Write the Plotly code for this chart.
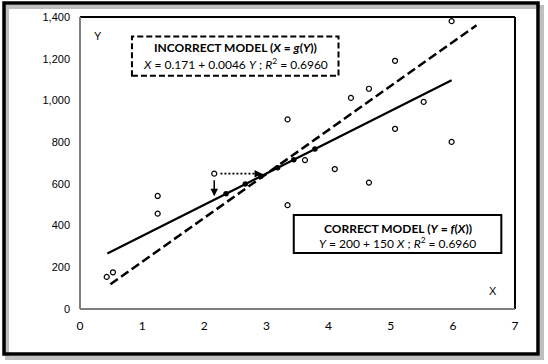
import plotly.graph_objects as go

# ---- data ----
obs_x = [0.43, 0.53, 1.25, 1.25, 2.16, 3.34, 3.34, 3.62, 4.10, 4.36, 4.65, 4.65, 5.07, 5.07, 5.53, 5.98, 5.98]
obs_y = [154, 176, 542, 457, 649, 909, 498, 714, 671, 1012, 1056, 606, 1190, 864, 993, 1380, 801]

# fitted (filled) points on the correct model line
fit_x = [2.35, 2.66, 2.91, 3.18, 3.44, 3.78]

# correct model Y = a + b X
a_coef = 200
b_coef = 150
solid_x = [0.44, 5.98]

# incorrect model line as drawn
dash_x = [0.49, 6.38]
dash_y = [119, 1360]

# highlighted point and arrows
hi_x, hi_y = 2.16, 649
arrow_down_end_y = 540
arrow_right_end_x = 2.93

x_ticks = [0, 1, 2, 3, 4, 5, 6, 7]
y_ticks = [0, 200, 400, 600, 800, 1000, 1200, 1400]

solid_y = [a_coef + b_coef * v for v in solid_x]
fit_y = [a_coef + b_coef * v for v in fit_x]

W, H = 548, 364
ML, MR, MT, MB = 80, 33, 17, 55
PW, PH = W - ML - MR, H - MT - MB

def px(xp):  # pixel -> paper x
    return (xp - ML) / PW

def py(yp):  # pixel -> paper y
    return 1 - (yp - MT) / PH

fig = go.Figure()

fig.add_trace(go.Scatter(x=dash_x, y=dash_y, mode="lines",
                         line=dict(color="black", width=2.5, dash="9px,4px"),
                         hoverinfo="skip", showlegend=False))
fig.add_trace(go.Scatter(x=solid_x, y=solid_y, mode="lines",
                         line=dict(color="black", width=2.2),
                         hoverinfo="skip", showlegend=False))
fig.add_trace(go.Scatter(x=obs_x, y=obs_y, mode="markers",
                         marker=dict(symbol="circle-open", size=5, color="black",
                                     line=dict(width=1.2, color="black")),
                         showlegend=False))
fig.add_trace(go.Scatter(x=fit_x, y=fit_y, mode="markers",
                         marker=dict(symbol="circle", size=5.5, color="black"),
                         showlegend=False))
# dotted horizontal segment
fig.add_trace(go.Scatter(x=[hi_x + 0.1, arrow_right_end_x - 0.08], y=[hi_y, hi_y], mode="lines",
                         line=dict(color="black", width=1.8, dash="2px,2px"),
                         hoverinfo="skip", showlegend=False))

shapes = []
# plot frame: top/right black, left/bottom grey
shapes.append(dict(type="line", xref="paper", yref="paper", x0=0, x1=1, y0=1, y1=1,
                   line=dict(color="black", width=2)))
shapes.append(dict(type="line", xref="paper", yref="paper", x0=1, x1=1, y0=0, y1=1,
                   line=dict(color="black", width=2)))
shapes.append(dict(type="line", xref="paper", yref="paper", x0=0, x1=0, y0=0, y1=1,
                   line=dict(color="#7f7f7f", width=2)))
shapes.append(dict(type="line", xref="paper", yref="paper", x0=0, x1=1, y0=0, y1=0,
                   line=dict(color="#7f7f7f", width=2)))
# outer frame with shadow
shapes.append(dict(type="rect", xref="paper", yref="paper",
                   x0=px(7), x1=px(542), y0=py(7), y1=py(358),
                   line=dict(color="rgba(0,0,0,0.25)", width=4), layer="below"))
shapes.append(dict(type="rect", xref="paper", yref="paper",
                   x0=px(4), x1=px(538), y0=py(3), y1=py(354),
                   line=dict(color="black", width=3.5)))
# boxes
shapes.append(dict(type="rect", xref="x", yref="y", x0=0.836, x1=4.16, y0=1118, y1=1306,
                   line=dict(color="black", width=2, dash="6px,3px"), fillcolor="white"))
shapes.append(dict(type="rect", xref="x", yref="y", x0=3.44, x1=6.78, y0=269, y1=451,
                   line=dict(color="black", width=2), fillcolor="white"))

annotations = []
# vertical arrow
annotations.append(dict(x=hi_x, y=arrow_down_end_y, ax=hi_x, ay=hi_y - 25,
                        xref="x", yref="y", axref="x", ayref="y", text="",
                        showarrow=True, arrowhead=2, arrowsize=1, arrowwidth=1.5,
                        arrowcolor="black"))
# right arrow head
annotations.append(dict(x=arrow_right_end_x, y=hi_y, ax=arrow_right_end_x - 0.06, ay=hi_y,
                        xref="x", yref="y", axref="x", ayref="y", text="",
                        showarrow=True, arrowhead=2, arrowsize=1, arrowwidth=1.5,
                        arrowcolor="black"))

box_font = dict(family="Lato, Carlito, Calibri, sans-serif", size=12, color="black")
def txt(x, y, text, font, xref="x"):
    return dict(x=x, y=y, xref=xref, yref="paper", showarrow=False, text=text, font=font,
                xanchor="center", yanchor="middle")

annotations.append(txt(2.5, py(48), "<b>INCORRECT MODEL (<i>X</i> = <i>g</i>(<i>Y</i>))</b>", box_font))
annotations.append(txt(2.5, py(64), "<i>X</i> = 0.171 + 0.0046 <i>Y</i> ; <i>R</i><sup>2</sup> = 0.6960", box_font))
annotations.append(txt(5.11, py(228), "<b>CORRECT MODEL (<i>Y</i> = <i>f</i>(<i>X</i>))</b>", box_font))
annotations.append(txt(5.11, py(243), "<i>Y</i> = 200 + 150 <i>X</i> ; <i>R</i><sup>2</sup> = 0.6960", box_font))
lab_font = dict(family="Liberation Sans, Arial", size=11, color="black")
annotations.append(txt(px(98), py(36), "Y", lab_font, xref="paper"))
annotations.append(txt(px(493), py(291), "X", lab_font, xref="paper"))

fig.update_layout(
    width=W, height=H,
    margin=dict(l=ML, r=MR, t=MT, b=MB),
    paper_bgcolor="white", plot_bgcolor="white",
    shapes=shapes, annotations=annotations,
    xaxis=dict(range=[0, 7], tickvals=x_ticks, showgrid=False, zeroline=False,
               showline=False, ticks="", ticklabelstandoff=8,
               tickfont=dict(family="Lato, Carlito, sans-serif", size=12, color="black")),
    yaxis=dict(range=[0, 1400], tickvals=y_ticks, tickformat=",", showgrid=False,
               zeroline=False, showline=False, ticks="", ticklabelstandoff=9,
               tickfont=dict(family="Liberation Sans, Arial", size=11, color="black")),
)

fig.write_html("out.html")
